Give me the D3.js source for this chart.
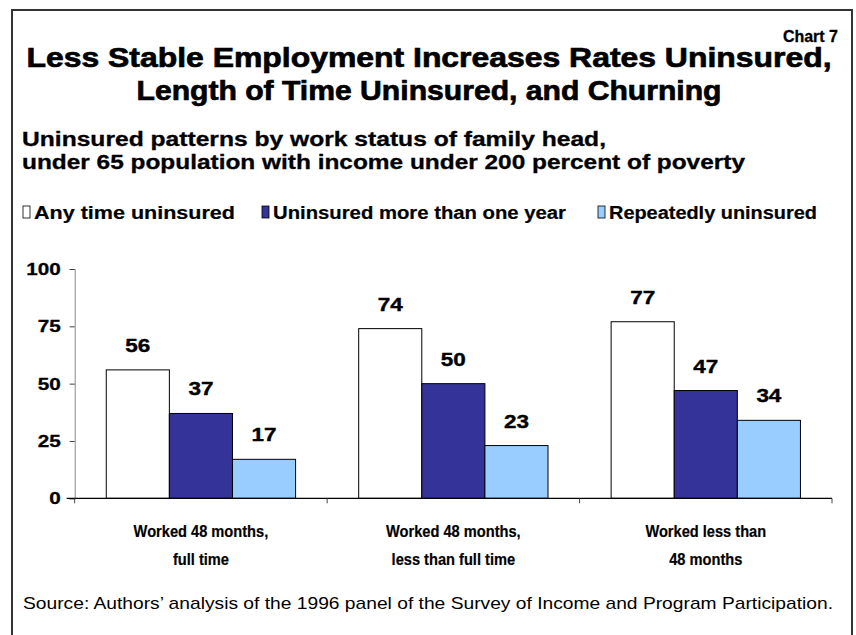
<!DOCTYPE html>
<html>
<head>
<meta charset="utf-8">
<script src="https://cdn.jsdelivr.net/npm/d3@7"></script>
<style>
  body { margin: 0; background: #fff; }
  svg text { font-family: "Liberation Sans", Arial, sans-serif; }
</style>
</head>
<body>
<svg width="856" height="635"></svg>
<script>
var categories = [["Worked 48 months,", "full time"], ["Worked 48 months,", "less than full time"], ["Worked less than", "48 months"]];
var seriesNames = ["Any time uninsured", "Uninsured more than one year", "Repeatedly uninsured"];
var anyTime = [56, 74, 77];
var moreThanYear = [37, 50, 47];
var repeatedly = [17, 23, 34];
var yTicks = [0, 25, 50, 75, 100];
var colors = ["#ffffff", "#333399", "#99ccff"];

var width = 856, height = 635;
var svg = d3.select('svg');
var plotLeft = 74.7, plotRight = 832, plotTop = 269, plotBottom = 498.3;

var series = [anyTime, moreThanYear, repeatedly];

// frame
svg.append('rect')
    .attr('x', 12).attr('y', 10)
    .attr('width', 840).attr('height', 640)
    .attr('fill', 'none')
    .attr('stroke', '#333')
    .attr('stroke-width', 2);

svg.append('text')
    .attr('x', 838).attr('y', 42)
    .attr('text-anchor', 'end')
    .style('font-size', '16px').style('font-weight', 'bold')
    .attr('stroke', '#000').attr('stroke-width', 0.3)
    .text('Chart 7');

var titleLines = ["Less Stable Employment Increases Rates Uninsured,", "Length of Time Uninsured, and Churning"];
svg.selectAll('.title')
    .data(titleLines)
    .enter()
    .append('text')
        .attr('class', 'title')
        .attr('x', 429)
        .attr('y', function(d, i){ return 67 + i * 33 })
        .attr('text-anchor', 'middle')
        .attr('textLength', function(d, i){ return i == 0 ? 805 : 585 })
        .attr('lengthAdjust', 'spacingAndGlyphs')
        .style('font-size', '28px').style('font-weight', 'bold')
        .attr('stroke', '#000').attr('stroke-width', 0.7)
        .text(function(d){ return d });

var subLines = ["Uninsured patterns by work status of family head,", "under 65 population with income under 200 percent of poverty"];
svg.selectAll('.sub')
    .data(subLines)
    .enter()
    .append('text')
        .attr('class', 'sub')
        .attr('x', 22)
        .attr('y', function(d, i){ return 146 + i * 23 })
        .attr('textLength', function(d, i){ return i == 0 ? 584 : 723 })
        .attr('lengthAdjust', 'spacingAndGlyphs')
        .style('font-size', '20px').style('font-weight', 'bold')
        .attr('stroke', '#000').attr('stroke-width', 0.3)
        .text(function(d){ return d });

// legend
var legendX = [23, 262, 598];
var legendW = [201, 293, 208];
var legend = svg.selectAll('.legend')
    .data(seriesNames)
    .enter()
    .append('g')
        .attr('class', 'legend')
        .attr('transform', function(d, i){ return 'translate(' + legendX[i] + ',' + 206 + ')' });
legend.append('rect')
    .attr('width', 7).attr('height', 12)
    .attr('fill', function(d, i){ return colors[i] })
    .attr('stroke', '#000').attr('stroke-width', 0.8);
legend.append('text')
    .attr('x', 11).attr('y', 13)
    .attr('textLength', function(d, i){ return legendW[i] })
    .attr('lengthAdjust', 'spacingAndGlyphs')
    .style('font-size', '18px').style('font-weight', 'bold')
    .attr('stroke', '#000').attr('stroke-width', 0.2)
    .text(function(d){ return d });

// scales
var x0 = d3.scaleBand().domain(d3.range(categories.length)).range([plotLeft, plotRight]).padding(0);
var x1 = d3.scaleBand().domain(d3.range(series.length))
    .range([x0.bandwidth() * 0.125, x0.bandwidth() * 0.875]).padding(0);
var y = d3.scaleLinear().domain([0, 100]).range([plotBottom, plotTop]);

// y axis
var yAxis = svg.append('g')
    .attr('transform', 'translate(' + plotLeft + ',0)')
    .call(d3.axisLeft(y).tickValues(yTicks).tickSize(5).tickPadding(9));
yAxis.attr('font-size', null).attr('font-family', null);
yAxis.select('.domain').attr('stroke', '#888');
yAxis.selectAll('.tick line').attr('stroke', '#444');
yAxis.selectAll('.tick text')
    .style('font-size', '17px').style('font-weight', 'bold')
    .attr('textLength', function(d){ return String(d).length * 11.5 })
    .attr('lengthAdjust', 'spacingAndGlyphs')
    .attr('stroke', '#000').attr('stroke-width', 0.3)
    .attr('fill', '#000');

// bars
var groups = svg.selectAll('.grp')
    .data(categories)
    .enter()
    .append('g')
        .attr('class', 'grp')
        .attr('transform', function(d, i){ return 'translate(' + x0(i) + ',0)' });

groups.selectAll('rect')
    .data(function(d, i){ return series.map(function(s, j){ return { s: j, v: s[i] } }) })
    .enter()
    .append('rect')
        .attr('x', function(d){ return x1(d.s) })
        .attr('y', function(d){ return y(d.v) })
        .attr('width', x1.bandwidth())
        .attr('height', function(d){ return y(0) - y(d.v) })
        .attr('fill', function(d){ return colors[d.s] })
        .attr('stroke', '#000')
        .attr('stroke-width', 1);

groups.selectAll('.val')
    .data(function(d, i){ return series.map(function(s, j){ return { s: j, v: s[i] } }) })
    .enter()
    .append('text')
        .attr('class', 'val')
        .attr('x', function(d){ return x1(d.s) + x1.bandwidth() / 2 })
        .attr('y', function(d){ return y(d.v) - 18 })
        .attr('text-anchor', 'middle')
        .attr('textLength', 25)
        .attr('lengthAdjust', 'spacingAndGlyphs')
        .style('font-size', '19px').style('font-weight', 'bold')
        .attr('stroke', '#000').attr('stroke-width', 0.4)
        .text(function(d){ return d.v });

// x axis
var xAxis = svg.append('g')
    .attr('transform', 'translate(0,' + plotBottom + ')');
xAxis.append('line')
    .attr('x1', plotLeft - 8).attr('x2', plotRight)
    .attr('stroke', '#000').attr('stroke-width', 1.2);
xAxis.selectAll('.xtick')
    .data(d3.range(categories.length + 1))
    .enter()
    .append('line')
        .attr('x1', function(d){ return plotLeft + d * x0.bandwidth() })
        .attr('x2', function(d){ return plotLeft + d * x0.bandwidth() })
        .attr('y1', 0).attr('y2', 5)
        .attr('stroke', '#444');

var catLabels = svg.selectAll('.cat')
    .data(categories)
    .enter()
    .append('text')
        .attr('class', 'cat')
        .attr('text-anchor', 'middle')
        .style('font-size', '17px').style('font-weight', 'bold')
        .attr('stroke', '#000').attr('stroke-width', 0.2);
catLabels.selectAll('tspan')
    .data(function(d, i){ return d.map(function(t){ return { t: t, i: i } }) })
    .enter()
    .append('tspan')
        .attr('x', function(d){ return x0(d.i) + x0.bandwidth() / 2 })
        .attr('y', function(d, k){ return 537 + k * 28 })
        .text(function(d){ return d.t });
catLabels.selectAll('tspan')
    .each(function(){
        var w = this.getComputedTextLength();
        d3.select(this).attr('textLength', w * 0.86).attr('lengthAdjust', 'spacingAndGlyphs');
    });

svg.append('text')
    .attr('x', 23).attr('y', 609)
    .attr('textLength', 810)
    .attr('lengthAdjust', 'spacingAndGlyphs')
    .style('font-size', '17px')
    .text('Source: Authors\u2019 analysis of the 1996 panel of the Survey of Income and Program Participation.');
</script>
</body>
</html>
